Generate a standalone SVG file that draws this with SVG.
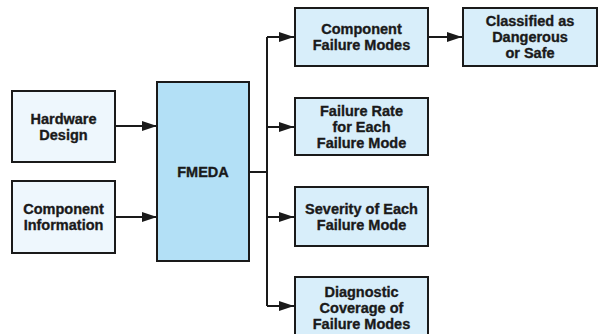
<svg xmlns="http://www.w3.org/2000/svg" width="600" height="334" viewBox="0 0 600 334">
<style>
.b{stroke:#1a1a1a;stroke-width:2}
.l{fill:#eef7fd}
.f{fill:#b3e0f6}
.r{fill:#d8eefa}
text{font-family:"Liberation Sans",Arial,sans-serif;font-weight:bold;font-size:14.5px;fill:#1a1a1a;stroke:#1a1a1a;stroke-width:0.35;text-anchor:middle}
.c{fill:none;stroke:#1a1a1a;stroke-width:2}
</style>
<defs>
<marker id="a" viewBox="0 0 15 10" refX="15" refY="5" markerWidth="15" markerHeight="10" markerUnits="userSpaceOnUse" orient="auto">
<path d="M0,0L15,5L0,10Z" fill="#1a1a1a"/>
</marker>
</defs>
<rect width="600" height="334" fill="#fff"/>
<g id="connectors">
<path class="c" d="M115,126H157" marker-end="url(#a)"/>
<path class="c" d="M115,217H157" marker-end="url(#a)"/>
<path class="c" d="M249,172H267"/>
<path class="c" d="M267,37V306"/>
<path class="c" d="M267,37H294" marker-end="url(#a)"/>
<path class="c" d="M267,127H294" marker-end="url(#a)"/>
<path class="c" d="M267,217H294" marker-end="url(#a)"/>
<path class="c" d="M267,306H294" marker-end="url(#a)"/>
<path class="c" d="M428,37H462" marker-end="url(#a)"/>
</g>
<g id="hardware">
<rect class="b l" x="12" y="91" width="103" height="71"/>
<text x="63.5" y="123.5">Hardware</text>
<text x="63.5" y="139.5">Design</text>
</g>
<g id="compinfo">
<rect class="b l" x="12" y="181" width="103" height="72"/>
<text x="63.5" y="214">Component</text>
<text x="63.5" y="230">Information</text>
</g>
<g id="fmeda">
<rect class="b f" x="157" y="82" width="92" height="179"/>
<text x="203" y="176.5">FMEDA</text>
</g>
<g id="cfm">
<rect class="b r" x="295" y="8" width="133" height="58"/>
<text x="361.5" y="34">Component</text>
<text x="361.5" y="50">Failure Modes</text>
</g>
<g id="classified">
<rect class="b r" x="463" y="8" width="134" height="58"/>
<text x="530" y="26">Classified as</text>
<text x="530" y="42">Dangerous</text>
<text x="530" y="58">or Safe</text>
</g>
<g id="rate">
<rect class="b r" x="295" y="98" width="133" height="57"/>
<text x="361.5" y="115.5">Failure Rate</text>
<text x="361.5" y="131.5">for Each</text>
<text x="361.5" y="147.5">Failure Mode</text>
</g>
<g id="severity">
<rect class="b r" x="295" y="187" width="133" height="59"/>
<text x="361.5" y="213.5">Severity of Each</text>
<text x="361.5" y="229.5">Failure Mode</text>
</g>
<g id="diagnostic">
<rect class="b r" x="295" y="277" width="133" height="64"/>
<text x="361.5" y="297">Diagnostic</text>
<text x="361.5" y="313">Coverage of</text>
<text x="361.5" y="329">Failure Modes</text>
</g>
</svg>
